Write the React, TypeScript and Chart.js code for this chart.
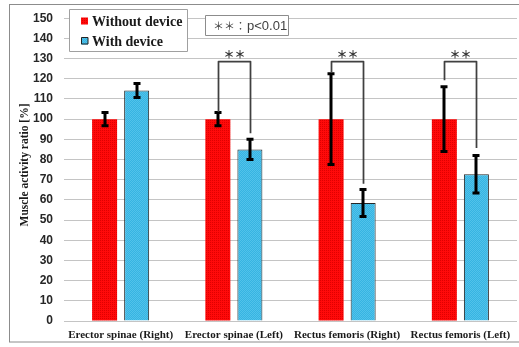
import React, { useEffect, useRef } from "react";
import { Chart, registerables } from "chart.js";

Chart.register(...registerables);

const categories = [
  "Erector spinae (Right)",
  "Erector spinae (Left)",
  "Rectus femoris (Right)",
  "Rectus femoris (Left)",
];
const seriesNames = ["Without device", "With device"];
const withoutDevice = [100, 100, 100, 100];
const withoutDeviceErr = [3.3, 3.3, 22.5, 16];
const withDevice = [114.2, 85, 58.5, 72.7];
const withDeviceErr = [3.5, 5, 6.7, 9.3];

const sigCategories = [1, 2, 3];
const bracketTop = 128.5;
const bracketLeftEnd = [103.5, 123, 119.3];
const bracketRightEnd = [93, 68, 85.7];
const sigLabel = "＊＊";
const noteMark = "＊＊：";
const noteValue = "p<0.01";
const yTitle = "Muscle activity ratio [%]";
const yMin = 0;
const yMax = 150;
const yStep = 10;

function makePattern(base: string, alt: string, kind: "dot" | "check") {
  const c = document.createElement("canvas");
  c.width = 2;
  c.height = 2;
  const g = c.getContext("2d")!;
  g.fillStyle = base;
  g.fillRect(0, 0, 2, 2);
  g.fillStyle = alt;
  if (kind === "dot") {
    g.fillRect(0, 0, 1, 1);
  } else {
    g.fillRect(0, 0, 1, 1);
    g.fillRect(1, 1, 1, 1);
  }
  return g.createPattern(c, "repeat")!;
}

export default function App() {
  const ref = useRef<HTMLCanvasElement | null>(null);

  useEffect(() => {
    const canvas = ref.current!;
    const redFill = makePattern("#ff0a0a", "#e00000", "dot");
    const blueFill = makePattern("#36b4e2", "#52c2ea", "check");
    const fills = [redFill, blueFill];
    const errs = [withoutDeviceErr, withDeviceErr];
    const vals = [withoutDevice, withDevice];

    const overlay = {
      id: "overlay",
      beforeDraw(chart: any) {
        const ctx = chart.ctx;
        ctx.save();
        ctx.fillStyle = "#ffffff";
        ctx.fillRect(0, 0, chart.width, chart.height);
        ctx.strokeStyle = "#8c8c8c";
        ctx.lineWidth = 1;
        ctx.strokeRect(9.5, 4.5, chart.width + 10, 337.5);
        ctx.restore();
      },
      afterDatasetsDraw(chart: any) {
        const ctx = chart.ctx;
        const y = chart.scales.y;
        ctx.save();
        // error bars
        for (let d = 0; d < 2; d++) {
          const meta = chart.getDatasetMeta(d);
          meta.data.forEach((bar: any, i: number) => {
            const x = Math.round(bar.x);
            const top = y.getPixelForValue(vals[d][i] + errs[d][i]);
            const bot = y.getPixelForValue(vals[d][i] - errs[d][i]);
            ctx.strokeStyle = "#000000";
            ctx.lineWidth = 3;
            ctx.beginPath();
            ctx.moveTo(x, top);
            ctx.lineTo(x, bot);
            ctx.stroke();
            ctx.beginPath();
            ctx.moveTo(x - 3.5, top);
            ctx.lineTo(x + 3.5, top);
            ctx.moveTo(x - 3.5, bot);
            ctx.lineTo(x + 3.5, bot);
            ctx.stroke();
          });
        }
        // significance brackets
        const m0 = chart.getDatasetMeta(0);
        const m1 = chart.getDatasetMeta(1);
        sigCategories.forEach((ci, k) => {
          const xl = Math.round(m0.data[ci].x) + 0.5;
          const xr = Math.round(m1.data[ci].x) + 0.5;
          const yt = y.getPixelForValue(bracketTop);
          const yl = y.getPixelForValue(bracketLeftEnd[k]);
          const yr = y.getPixelForValue(bracketRightEnd[k]);
          ctx.strokeStyle = "#404040";
          ctx.lineWidth = 1.75;
          ctx.lineJoin = "round";
          ctx.beginPath();
          ctx.moveTo(xl, yl);
          ctx.lineTo(xl, yt);
          ctx.lineTo(xr, yt);
          ctx.lineTo(xr, yr);
          ctx.stroke();
          ctx.fillStyle = "#333333";
          ctx.font = 'bold 11px "Noto Sans CJK JP"';
          ctx.textAlign = "center";
          ctx.textBaseline = "alphabetic";
          ctx.fillText(sigLabel, (xl + xr) / 2, yt - 3);
        });
        // legend
        ctx.fillStyle = "#ffffff";
        ctx.fillRect(69, 9, 118, 42);
        ctx.strokeStyle = "#a0a0a0";
        ctx.lineWidth = 1;
        ctx.strokeRect(69.5, 9.5, 118, 42);
        ctx.font = 'bold 14px "Liberation Serif"';
        ctx.textAlign = "left";
        ctx.textBaseline = "middle";
        seriesNames.forEach((name, i) => {
          const cy = 21 + i * 20;
          ctx.fillStyle = fills[i];
          ctx.fillRect(81, cy - 3.5, 7, 7);
          if (i === 1) {
            ctx.strokeStyle = "#222";
            ctx.strokeRect(81.5, cy - 3.5, 6.5, 6.5);
          }
          ctx.fillStyle = "#1a1a1a";
          ctx.fillText(name, 92, cy + 1);
        });
        // note box
        ctx.fillStyle = "#ffffff";
        ctx.fillRect(205, 15, 83, 20);
        ctx.strokeStyle = "#8c8c8c";
        ctx.strokeRect(205.5, 15.5, 83, 20);
        ctx.fillStyle = "#404040";
        ctx.textAlign = "left";
        ctx.textBaseline = "middle";
        ctx.font = '11px "Noto Sans CJK JP"';
        ctx.fillText(noteMark, 213, 25.5);
        ctx.font = '13px "Liberation Sans"';
        ctx.fillText(noteValue, 247, 26);
        // y title
        ctx.save();
        ctx.translate(25, 165);
        ctx.rotate(-Math.PI / 2);
        ctx.font = 'bold 11.5px "Liberation Serif"';
        ctx.fillStyle = "#1a1a1a";
        ctx.textAlign = "center";
        ctx.textBaseline = "middle";
        ctx.fillText(yTitle, 0, 0);
        ctx.restore();
        ctx.restore();
      },
    };

    const chart = new Chart(canvas, {
      type: "bar",
      data: {
        labels: categories,
        datasets: [
          {
            label: seriesNames[0],
            data: withoutDevice,
            backgroundColor: redFill,
            borderWidth: 0,
            categoryPercentage: 0.566,
            barPercentage: 0.78,
          },
          {
            label: seriesNames[1],
            data: withDevice,
            backgroundColor: blueFill,
            borderColor: "#262626",
            borderWidth: 1,
            categoryPercentage: 0.566,
            barPercentage: 0.78,
          },
        ],
      },
      options: {
        responsive: false,
        animation: false,
        layout: { padding: { left: 0, right: 2, top: 13, bottom: 0 } },
        plugins: { legend: { display: false }, tooltip: { enabled: false } },
        scales: {
          x: {
            grid: { display: false, drawTicks: false },
            border: { display: false },
            ticks: {
              font: { family: "Liberation Serif", size: 11, weight: "bold" },
              color: "#1a1a1a",
              padding: 8,
              maxRotation: 0,
              autoSkip: false,
            },
            afterFit: (a: any) => {
              a.height = 26;
            },
          },
          y: {
            min: yMin,
            max: yMax,
            ticks: {
              stepSize: yStep,
              font: { family: "Liberation Sans", size: 12, weight: "bold" },
              color: "#262626",
              padding: 11,
            },
            grid: { color: "#c4c4c4", drawTicks: false },
            border: { display: false },
            afterFit: (a: any) => {
              a.width = 64;
            },
          },
        },
      },
      plugins: [overlay],
    });
    return () => chart.destroy();
  }, []);

  return (
    <div style={{ position: "absolute", left: 0, top: 0, width: 519, height: 347 }}>
      <canvas ref={ref} width={519} height={347} style={{ display: "block" }} />
    </div>
  );
}
